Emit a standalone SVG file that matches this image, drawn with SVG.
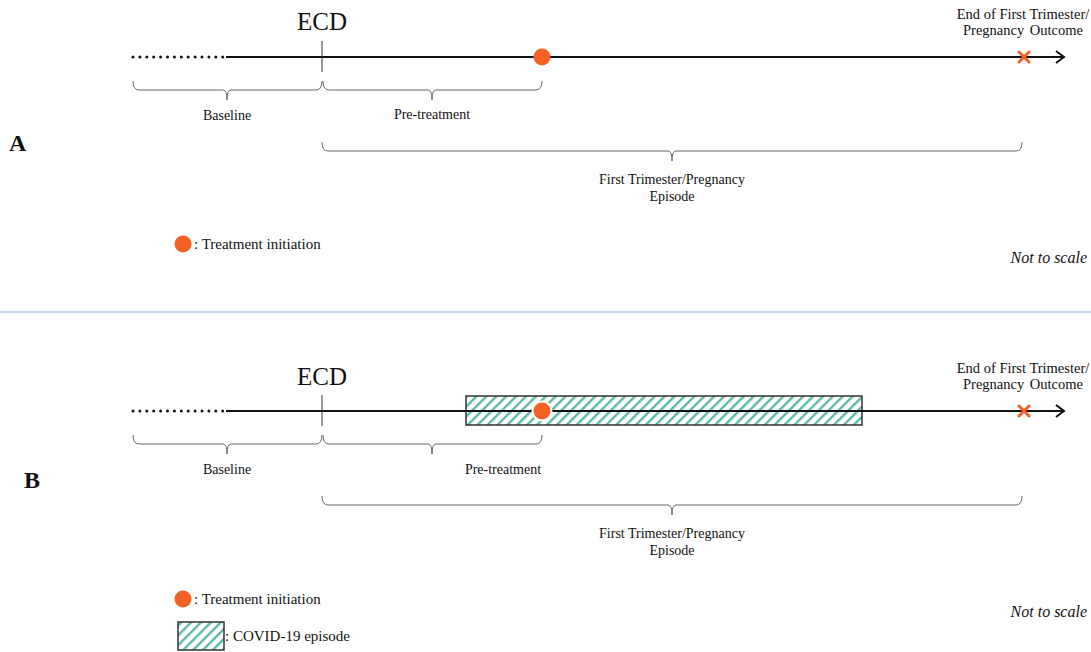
<svg xmlns="http://www.w3.org/2000/svg" width="1091" height="652" viewBox="0 0 1091 652">
<style>
text{font-family:"Liberation Serif","Times New Roman",serif;fill:#111}
.lbl{font-size:14px;text-anchor:middle}
.ecd{font-size:25px;text-anchor:middle}
.ns{font-size:16px;font-style:italic;text-anchor:end}
.pl{font-size:24px;font-weight:bold}
.leg{font-size:15px}
.tl{stroke:#111;stroke-width:2;fill:none}
.dot{stroke:#111;stroke-width:3;stroke-linecap:round;stroke-dasharray:0 6.9;fill:none}
.tick{stroke:#333;stroke-width:1;fill:none}
.brace{stroke:#666;stroke-width:1;fill:none}
.dotm{fill:#F46127}
.xm{stroke:#F46127;stroke-width:3;stroke-linecap:round}
.covid{fill:url(#hatch);stroke:#333;stroke-width:1.5}
</style>
<defs>
<pattern id="hatch" patternUnits="userSpaceOnUse" width="7" height="7" patternTransform="rotate(45)">
<rect width="7" height="7" fill="#fff"/>
<rect x="0" y="0" width="2.4" height="7" fill="#5DB9A5"/>
</pattern>
<marker id="arr" markerWidth="12" markerHeight="14" refX="10" refY="7" orient="auto" markerUnits="userSpaceOnUse">
<path d="M2 1 L10 7 L2 13" fill="none" stroke="#111" stroke-width="2"/>
</marker>
</defs>

<line x1="0" y1="312" x2="1091" y2="312" stroke="#B4C7E7" stroke-width="1.5"/>

<g id="panelA">
<text class="pl" x="9" y="151">A</text>
<g id="connectorsA">
<line class="dot" x1="133" y1="57" x2="226" y2="57"/>
<line class="tl" x1="226" y1="57" x2="1064" y2="57" marker-end="url(#arr)"/>
<line class="tick" x1="322" y1="41" x2="322" y2="72"/>
<path class="brace" d="M133 81 Q133 90 139 90 L223 90 Q227 90 227 100 Q227 90 231 90 L316 90 Q322 90 322 81"/>
<path class="brace" d="M323 81 Q323 90 329 90 L428 90 Q432 90 432 100 Q432 90 436 90 L536 90 Q542 90 542 81"/>
<path class="brace" d="M322 142 Q322 151 328 151 L668 151 Q672 151 672 161 Q672 151 676 151 L1016 151 Q1022 151 1022 142"/>
</g>
<g id="ecdA"><text class="ecd" x="322" y="30">ECD</text></g>
<g id="treatA"><circle class="dotm" cx="542" cy="57" r="8.5"/></g>
<g id="endA">
<path class="xm" d="M1019 52 L1029 62 M1029 52 L1019 62"/>
<text class="lbl" x="1023" y="19" style="font-size:14.5px">End of First Trimester/</text>
<text class="lbl" x="1023" y="35" style="font-size:14.5px" word-spacing="2">Pregnancy Outcome</text>
</g>
<text class="lbl" x="227" y="120">Baseline</text>
<text class="lbl" x="432" y="119">Pre-treatment</text>
<text class="lbl" x="672" y="184">First Trimester/Pregnancy</text>
<text class="lbl" x="672" y="201">Episode</text>
<g id="legendA">
<circle class="dotm" cx="183" cy="244" r="8.5"/>
<text class="leg" x="194" y="249">: Treatment initiation</text>
</g>
<text class="ns" x="1087" y="263">Not to scale</text>
</g>

<g id="panelB">
<text class="pl" x="24" y="488">B</text>
<g id="covidB"><rect class="covid" x="466" y="396" width="396" height="29"/></g>
<g id="connectorsB">
<line class="dot" x1="133" y1="411" x2="226" y2="411"/>
<line class="tl" x1="226" y1="411" x2="1064" y2="411" marker-end="url(#arr)"/>
<line class="tick" x1="322" y1="395" x2="322" y2="426"/>
<path class="brace" d="M133 435 Q133 444 139 444 L223 444 Q227 444 227 454 Q227 444 231 444 L316 444 Q322 444 322 435"/>
<path class="brace" d="M323 435 Q323 444 329 444 L428 444 Q432 444 432 454 Q432 444 436 444 L536 444 Q542 444 542 435"/>
<path class="brace" d="M322 496 Q322 505 328 505 L668 505 Q672 505 672 515 Q672 505 676 505 L1016 505 Q1022 505 1022 496"/>
</g>
<g id="ecdB"><text class="ecd" x="322" y="385">ECD</text></g>
<g id="treatB"><circle cx="542" cy="411" r="10.5" fill="#fff"/><circle class="dotm" cx="542" cy="411" r="8.5"/></g>
<g id="endB">
<path class="xm" d="M1019 406 L1029 416 M1029 406 L1019 416"/>
<text class="lbl" x="1023" y="373" style="font-size:14.5px">End of First Trimester/</text>
<text class="lbl" x="1023" y="389" style="font-size:14.5px" word-spacing="2">Pregnancy Outcome</text>
</g>
<text class="lbl" x="227" y="474">Baseline</text>
<text class="lbl" x="503" y="474">Pre-treatment</text>
<text class="lbl" x="672" y="538">First Trimester/Pregnancy</text>
<text class="lbl" x="672" y="555">Episode</text>
<g id="legendB">
<circle class="dotm" cx="183" cy="599" r="8.5"/>
<text class="leg" x="194" y="604">: Treatment initiation</text>
<rect class="covid" x="178" y="622" width="46" height="28"/>
<text class="leg" x="225" y="641">: COVID-19 episode</text>
</g>
<text class="ns" x="1087" y="617">Not to scale</text>
</g>
</svg>
